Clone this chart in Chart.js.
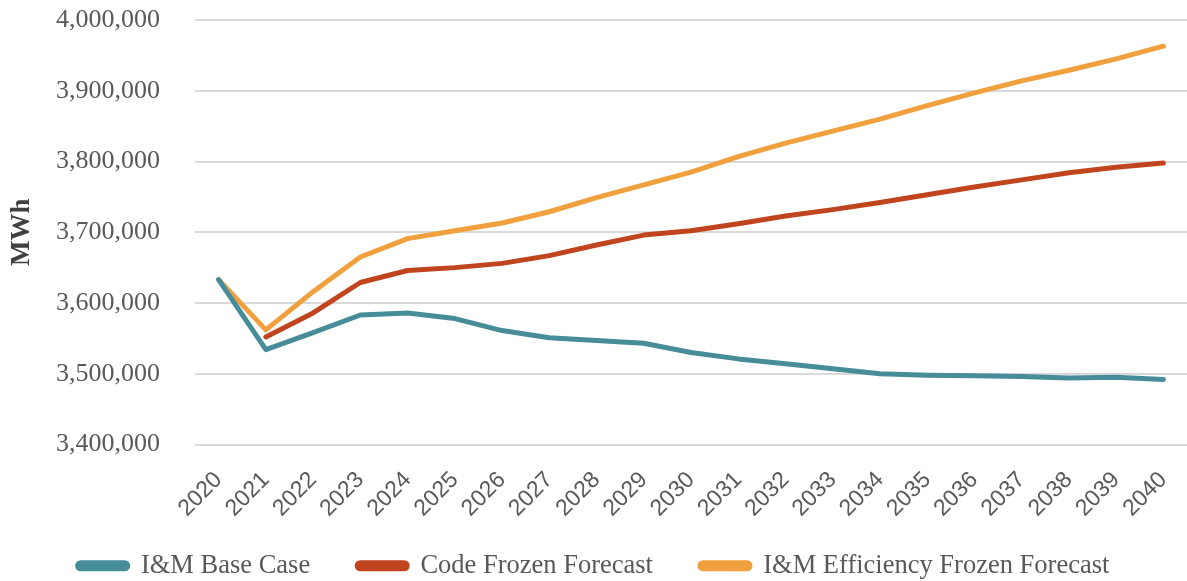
<!DOCTYPE html>
<html>
<head>
<meta charset="utf-8">
<script src="https://cdn.jsdelivr.net/npm/chart.js@4/dist/chart.umd.min.js"></script>
<style>
  html, body { margin: 0; padding: 0; background: #fff; }
  #wrap { width: 1187px; height: 581px; position: relative; }
</style>
</head>
<body>
<div id="wrap"><canvas id="chart"></canvas></div>
<script>
// chart data
const years = ['2020','2021','2022','2023','2024','2025','2026','2027','2028','2029','2030',
  '2031','2032','2033','2034','2035','2036','2037','2038','2039','2040'];

const baseCase = [3633000, 3534000, 3558000, 3583000, 3586000, 3578000, 3561000, 3551000, 3547000, 3543000, 3530000,
  3521000, 3514000, 3507000, 3500000, 3498000, 3497000, 3496000, 3494000, 3495000, 3492000];

const codeFrozen = [null, 3552000, 3586000, 3629000, 3646000, 3650000, 3656000, 3667000, 3682000, 3696000, 3702000,
  3712000, 3723000, 3732000, 3742000, 3753000, 3764000, 3774000, 3784000, 3792000, 3798000];

const efficiencyFrozen = [3633000, 3562000, 3616000, 3665000, 3691000, 3702000, 3713000, 3729000, 3749000, 3767000, 3785000,
  3807000, 3826000, 3843000, 3860000, 3879000, 3897000, 3914000, 3929000, 3945000, 3963000];

const yTicks = [3400000, 3500000, 3600000, 3700000, 3800000, 3900000, 4000000];

const gray = '#595959';
const serif = "'Liberation Serif', 'Times New Roman', serif";

const lineStyle = (label, data, color) => ({
  label: label,
  data: data,
  borderColor: color,
  backgroundColor: color,
  borderWidth: 5,
  borderCapStyle: 'round',
  borderJoinStyle: 'round',
  pointRadius: 0,
  pointHoverRadius: 0,
  tension: 0,
  spanGaps: false
});

new Chart(document.getElementById('chart'), {
  type: 'line',
  data: {
    labels: years,
    datasets: [
      lineStyle('I&M Base Case', baseCase, '#468C99'),
      lineStyle('Code Frozen Forecast', codeFrozen, '#C0441E'),
      lineStyle('I&M Efficiency Frozen Forecast', efficiencyFrozen, '#F0A03C')
    ]
  },
  options: {
    responsive: true,
    maintainAspectRatio: false,
    animation: false,
    layout: { padding: { top: 20, left: 0, right: 0, bottom: -8 } },
    scales: {
      x: {
        offset: true,
        grid: { display: false, drawTicks: false },
        border: { display: false },
        afterFit: (scale) => {
          // labels hang below into the legend band, like the original
          scale.height = 61;
          scale.paddingLeft = 0;
          scale.paddingRight = 0;
          scale._computeLabelArea = () => undefined;
        },
        ticks: {
          color: gray,
          autoSkip: false,
          maxRotation: 45,
          minRotation: 45,
          padding: 22,
          font: { family: "'Liberation Sans', Arial, sans-serif", size: 23 }
        }
      },
      y: {
        min: 3400000,
        max: 4000000,
        afterBuildTicks: (scale) => { scale.ticks = yTicks.map(v => ({ value: v })); },
        afterFit: (scale) => {
          scale.width = 195;
          scale.paddingTop = 0;
          scale.paddingBottom = 0;
        },
        grid: { color: '#d9d9d9', lineWidth: 2, drawTicks: false },
        border: { display: false },
        title: {
          display: true,
          text: 'MWh',
          color: '#404040',
          padding: { top: 6, bottom: 0 },
          font: { family: serif, size: 27, weight: 'bold' }
        },
        ticks: {
          color: gray,
          padding: 35,
          font: { family: serif, size: 26 },
          callback: (v) => Number(v).toLocaleString('en-US')
        }
      }
    },
    plugins: {
      legend: {
        position: 'bottom',
        labels: {
          color: gray,
          boxWidth: 50,
          boxHeight: 6,
          padding: 47,
          useBorderRadius: true,
          borderRadius: 3,
          font: { family: serif, size: 26.5, lineHeight: 1 }
        }
      },
      tooltip: { enabled: false }
    }
  }
});
</script>
</body>
</html>
